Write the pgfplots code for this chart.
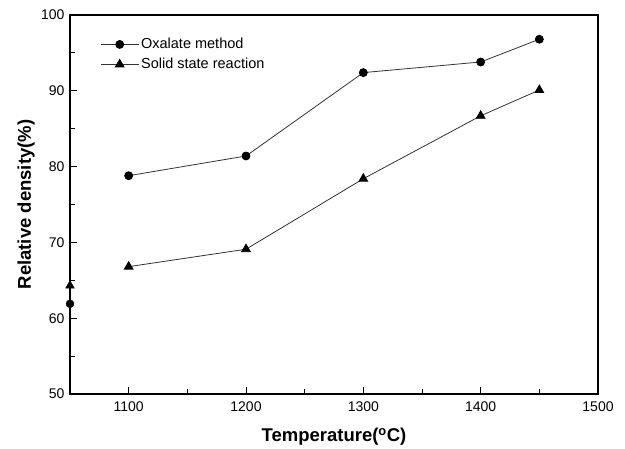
\documentclass[border=0pt]{standalone}
\usepackage{pgfplots}
\pgfplotsset{compat=1.18}
\usepackage{fontspec}
\setmainfont{Liberation Sans}
\begin{document}
\begin{tikzpicture}
\begin{axis}[
  name=main,
  scale only axis,
  width=528pt, height=379pt,
  xmin=1050, xmax=1500, ymin=50, ymax=100,
  xtick={1100,1200,1300,1400,1500},
  ytick={50,60,70,80,90,100},
  minor x tick num=1, minor y tick num=1,
  tick align=inside,
  xtick pos=bottom, ytick pos=left,
  major tick length=7pt, minor tick length=5pt,
  axis line style={line width=1.3pt},
  every tick/.style={line width=1pt, black},
  /pgf/number format/assume math mode=true,
  /pgf/number format/1000 sep={},
  tick label style={font=\fontsize{14}{16}\selectfont},
  xticklabel style={yshift=-4pt},
  yticklabel style={xshift=-2pt},
  xlabel={\textbf{Temperature(\textsuperscript{o}C)}},
  ylabel={\textbf{Relative density(\%)}},
  label style={font=\fontsize{18.5}{22}\selectfont},
  xlabel style={at={(axis description cs:0.5,-0.113)}, anchor=center},
  ylabel style={at={(axis description cs:-0.083,0.5)}, anchor=center},
  clip=false,
  legend style={at={(0.057,0.944)}, anchor=north west, draw=none, fill=none,
    inner sep=0pt, font=\fontsize{14.5}{17}\selectfont, row sep=4pt},
  legend cell align=left,
  legend image code/.code={\draw[mark repeat=2,mark phase=2,#1] plot coordinates {(0pt,0pt) (19pt,0pt) (38pt,0pt)};},
]
\addplot[black!80, line width=0.8pt, mark=*, mark size=4pt, mark options={black, solid}]
  coordinates {(1100,78.8) (1200,81.4) (1300,92.4) (1400,93.8) (1450,96.8)};
\addlegendentry{Oxalate method}
\addplot[black!80, line width=0.8pt, mark=triangle*, mark size=5pt, mark options={black, solid}]
  coordinates {(1100,66.8) (1200,69.1) (1300,78.4) (1400,86.7) (1450,90.1)};
\addlegendentry{Solid state reaction}
\addplot[only marks, mark=*, mark size=4pt, black, forget plot] coordinates {(1050,61.9)};
\addplot[only marks, mark=triangle*, mark size=5pt, black, forget plot] coordinates {(1050,64.3)};
\end{axis}
\path (main.south west) ++(-70pt,-52pt);
\path (main.north east) ++(27pt,15pt);
\end{tikzpicture}
\end{document}
